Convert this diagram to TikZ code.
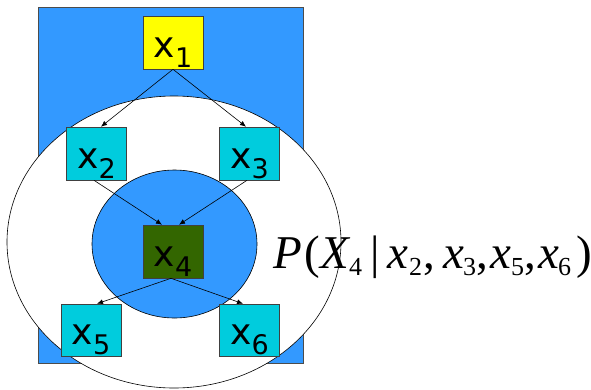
\documentclass[tikz,border=0pt]{standalone}
\usepackage{fontspec}
\setmainfont{DejaVu Sans}
\newfontfamily\timesfont{Liberation Serif}
\usetikzlibrary{arrows.meta}
\definecolor{bgblue}{RGB}{51,153,255}
\definecolor{boxcyan}{RGB}{0,204,221}
\definecolor{boxyellow}{RGB}{255,255,0}
\definecolor{boxgreen}{RGB}{51,102,0}
\newcommand{\vsub}[1]{\raisebox{-10pt}{\fontsize{27}{27}\selectfont #1}}
\newcommand{\fpart}[2]{\makebox[#1pt][l]{#2}}
\newcommand{\fsub}[2]{\makebox[#1pt][l]{\raisebox{-7pt}{\fontsize{26}{26}\selectfont #2}}}
\tikzset{
  varbox/.style={draw=black!75, line width=0.6pt, minimum width=60pt, minimum height=53pt,
    inner sep=0pt, text height=39pt, text depth=10pt,
    font=\fontsize{36}{36}\selectfont},
  conn/.style={-{Latex[length=6pt,width=5pt]}, line width=0.6pt},
}
\begin{document}
\begin{tikzpicture}[x=1pt,y=-1pt]
\useasboundingbox (0,0) rectangle (591,389);
\fill[white] (0,0) rectangle (591,389);
% background rectangle
\draw[fill=bgblue, draw=black!70, line width=0.5pt] (38,7) rectangle (303,363);
% outer ellipse
\draw[fill=white, line width=0.6pt] (174,242) ellipse [x radius=167, y radius=146];
% inner circle
\draw[fill=bgblue, line width=0.6pt] (174.5,244) ellipse [x radius=82.5, y radius=74];
% nodes
\node[varbox, fill=boxyellow] (x1) at (173,42.5) {x\vsub{1}};
\node[varbox, fill=boxcyan] (x2) at (96.5,153.5) {x\vsub{2}};
\node[varbox, fill=boxcyan] (x3) at (249.5,153.5) {x\vsub{3}};
\node[varbox, fill=boxgreen] (x4) at (173,251.5) {x\vsub{4}};
\node[varbox, fill=boxcyan, minimum height=52pt] (x5) at (91,330) {x\vsub{5}};
\node[varbox, fill=boxcyan, minimum height=52pt] (x6) at (249.5,330) {x\vsub{6}};
% connectors
\draw[conn] (x1.south) -- ([xshift=4.5pt]x2.north);
\draw[conn] (x1.south) -- ([xshift=-3.5pt]x3.north);
\draw[conn] ([xshift=-2.5pt]x2.south) -- ([xshift=-11pt]x4.north);
\draw[conn] ([xshift=-2.5pt]x3.south) -- ([xshift=6pt]x4.north);
\draw[conn] ([xshift=-2pt]x4.south) -- ([xshift=6pt]x5.north);
\draw[conn] ([xshift=-2pt]x4.south) -- ([xshift=-6.5pt]x6.north);
% formula
\node[anchor=base west, inner sep=0pt, font=\timesfont\fontsize{47}{47}\selectfont] (formula) at (273,268)
  {\fpart{31}{\textit{P}}\fpart{16}{(}\fpart{29}{\textit{X}}\fsub{21}{4}\fpart{17}{|}%
   \fpart{22}{\textit{x}}\fsub{14}{2}\fpart{20}{,}%
   \fpart{20}{\textit{x}}\fsub{13}{3}\fpart{14}{,}%
   \fpart{21}{\textit{x}}\fsub{13}{5}\fpart{14}{,}%
   \fpart{20}{\textit{x}}\fsub{18}{6}\fpart{12}{)}};
\end{tikzpicture}
\end{document}
